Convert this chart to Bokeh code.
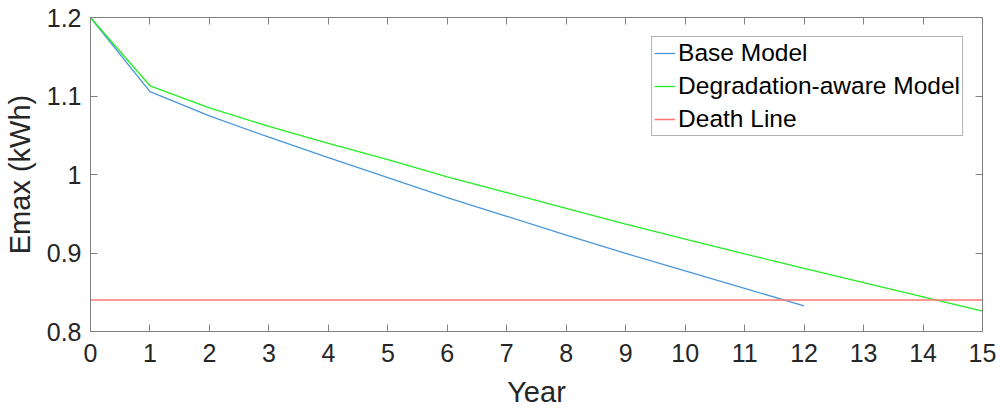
from bokeh.plotting import figure
from bokeh.models import Range1d, LinearAxis, Legend, LegendItem, FixedTicker
from bokeh.embed import file_html
from bokeh.resources import INLINE

years_base = [0, 1, 2, 3, 4, 5, 6, 7, 8, 9, 10, 11, 12]
base_model = [1.2, 1.1055, 1.0747, 1.0475, 1.0215, 0.996, 0.9706, 0.9468,
              0.9229, 0.8994, 0.8772, 0.855, 0.8325]
years_deg = [0, 1, 2, 3, 4, 5, 6, 7, 8, 9, 10, 11, 12, 13, 14, 15]
deg_model = [1.2, 1.113, 1.085, 1.0613, 1.0397, 1.0188, 0.9971, 0.977,
             0.9567, 0.9367, 0.9177, 0.8988, 0.8805, 0.8624, 0.8442, 0.826]
death_x = [0, 15]
death_y = [0.84, 0.84]
x_ticks = list(range(0, 16))
y_ticks = [0.8, 0.9, 1.0, 1.1, 1.2]
y_tick_labels = ["0.8", "0.9", "1", "1.1", "1.2"]

FONT = "Liberation Sans"
TXT = "#262626"
AX = "#808080"

p = figure(width=1000, height=410, output_backend="svg", toolbar_location=None,
           x_range=Range1d(0, 15), y_range=Range1d(0.8, 1.2),
           min_border_left=90, min_border_right=18, min_border_top=17,
           min_border_bottom=78)
p.background_fill_color = "white"
p.border_fill_color = "white"
p.outline_line_color = None
p.grid.visible = False

l1 = p.line(years_base, base_model, line_color="#4a97d8", line_width=1.3)
l2 = p.line(years_deg, deg_model, line_color="#22ee22", line_width=1.3)
l3 = p.line(death_x, death_y, line_color="#ff7373", line_width=1.5)

def style(ax, labels=True):
    ax.axis_line_color = AX
    ax.major_tick_line_color = AX
    ax.major_tick_in = 7
    ax.major_tick_out = 0
    ax.minor_tick_line_color = None
    ax.major_label_text_font = FONT
    ax.major_label_text_font_size = "25px"
    ax.major_label_text_color = TXT
    ax.axis_label_text_font = FONT
    ax.axis_label_text_font_size = "29px"
    ax.axis_label_text_font_style = "normal"
    ax.axis_label_text_color = TXT
    if not labels:
        ax.major_label_text_font_size = "0px"
        ax.major_label_text_alpha = 0

xa = p.xaxis[0]
xa.ticker = FixedTicker(ticks=x_ticks)
xa.axis_label = "Year"
xa.major_label_standoff = 12
xa.axis_label_standoff = 11
style(xa)

ya = p.yaxis[0]
ya.ticker = FixedTicker(ticks=y_ticks)
ya.major_label_overrides = {t: s for t, s in zip(y_ticks, y_tick_labels)}
ya.axis_label = "Emax (kWh)"
ya.major_label_standoff = 9
ya.axis_label_standoff = 8
style(ya)

top = LinearAxis(ticker=FixedTicker(ticks=x_ticks), major_label_standoff=0)
style(top, labels=False)
p.add_layout(top, "above")
right = LinearAxis(ticker=FixedTicker(ticks=y_ticks), major_label_standoff=0)
style(right, labels=False)
p.add_layout(right, "right")

legend = Legend(items=[LegendItem(label="Base Model", renderers=[l1]),
                       LegendItem(label="Degradation-aware Model", renderers=[l2]),
                       LegendItem(label="Death Line", renderers=[l3])],
                location="top_right")
legend.label_text_font = FONT
legend.label_text_font_size = "24.5px"
legend.label_text_color = "black"
legend.glyph_width = 21
legend.glyph_height = 26
legend.label_height = 26
legend.label_standoff = 3
legend.spacing = 5
legend.padding = 2
legend.margin = 19
legend.border_line_color = "#666666"
legend.border_line_width = 1
legend.background_fill_color = "white"
p.add_layout(legend)

open("out.html", "w").write(file_html(p, INLINE))
